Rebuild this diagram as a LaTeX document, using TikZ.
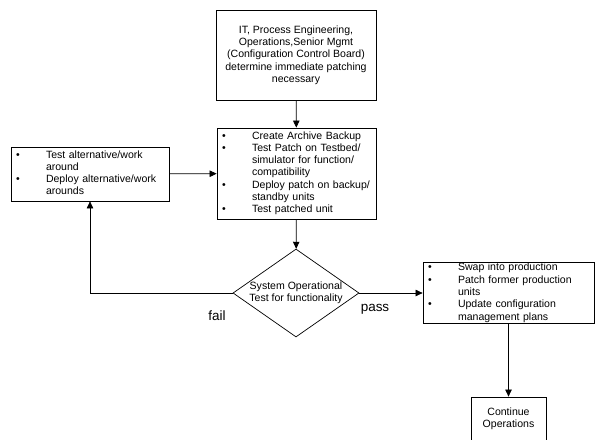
\documentclass[tikz,border=0pt]{standalone}
\usepackage{fontspec}
\setmainfont{Liberation Sans}
\usetikzlibrary{arrows.meta}
\usetikzlibrary{shapes.geometric}

\begin{document}
\begin{tikzpicture}[x=0.03cm, y=-0.03cm,
    every node/.style={font=\fontsize{9}{10.5}\selectfont},
    box/.style={draw, line width=0.6pt, inner sep=0pt},
    listbox/.style={box, align=left, inner xsep=4.3pt},
    arr/.style={-{Triangle[length=6pt,width=5.5pt]}, line width=0.6pt}]
    \useasboundingbox (0,0) rectangle (597,439);
    \clip (0,0) rectangle (597,439);

    \node (board) [box, align=center, minimum width=136.6pt, minimum height=76.8pt] at (296,55)
        {IT, Process Engineering,\\Operations,Senior Mgmt\\(Configuration Control Board)\\determine immediate patching\\necessary};
    \node (patch) [listbox, text width=127.1pt, minimum height=77.7pt] at (296.5,173.5)
        {\begin{tabular}{@{}p{25.6pt}@{}l@{}}
        \textbullet & Create Archive Backup\\
        \textbullet & Test Patch on Testbed/\\
                    & simulator for function/\\
                    & compatibility\\
        \textbullet & Deploy patch on backup/\\
                    & standby units\\
        \textbullet & Test patched unit
        \end{tabular}};
    \node (alt) [listbox, text width=126.3pt, minimum height=46.1pt] at (90,174)
        {\begin{tabular}{@{}p{25.6pt}@{}l@{}}
        \textbullet & Test alternative/work\\
                    & around\\
        \textbullet & Deploy alternative/work\\
                    & arounds
        \end{tabular}};
    \node (test) [diamond, draw, line width=0.6pt, inner sep=0pt, aspect=1.43,
        minimum width=107.6pt, minimum height=75.1pt, align=center] at (296,293)
        {System Operational\\Test for functionality};
    \node (prod) [listbox, text width=137.4pt, minimum height=51.2pt] at (508.5,293)
        {\begin{tabular}{@{}p{25.6pt}@{}l@{}}
        \textbullet & Swap into production\\
        \textbullet & Patch former production\\
                    & units\\
        \textbullet & Update configuration\\
                    & management plans
        \end{tabular}};
    \node (cont) [box, align=center, minimum width=64pt, minimum height=37.6pt] at (508.5,419)
        {Continue\\Operations};

    \node (fail) [font=\fontsize{11.5}{13}\selectfont] at (217,316) {fail};
    \node (pass) [font=\fontsize{11.5}{13}\selectfont] at (375,309) {pass};

    \draw[arr] (board) -- (patch);
    \draw[arr] (alt) -- (patch);
    \draw[arr] (patch) -- (test);
    \draw[arr] (test.west) -| (alt.south);
    \draw[arr] (test.east) -- (prod.west);
    \draw[arr] (prod.south) -- (cont.north);
\end{tikzpicture}
\end{document}
